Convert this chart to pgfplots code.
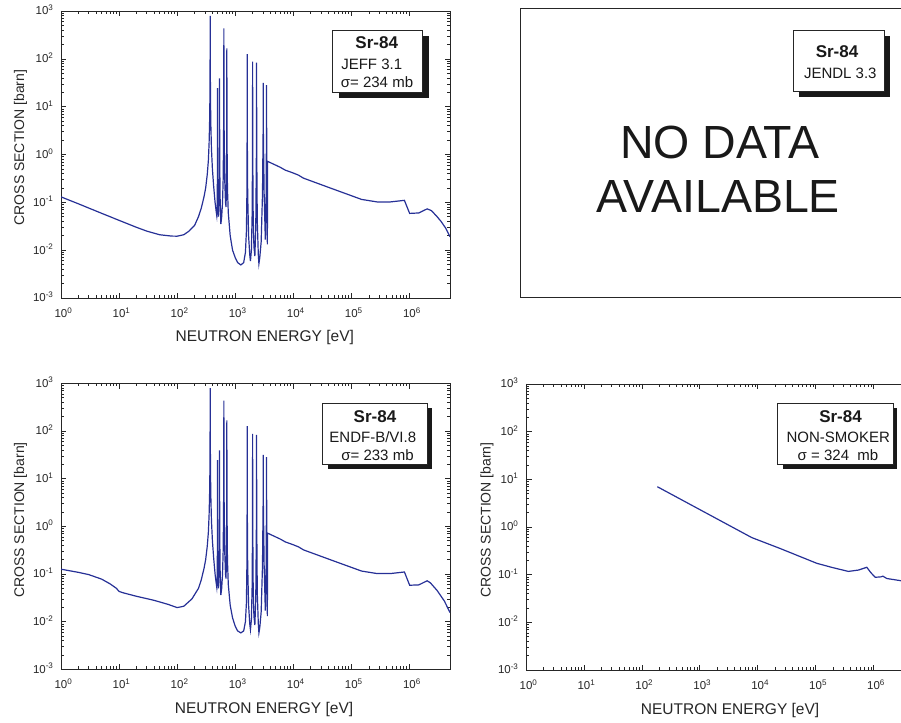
\documentclass[border=0pt]{standalone}
\usepackage{pgfplots}
\pgfplotsset{compat=1.18}
\usepackage{fontspec}
\setmainfont{Liberation Sans}
\definecolor{curve}{RGB}{38,48,150}
\newcommand{\xe}[1]{10\rlap{\textsuperscript{#1}}}
\newcommand{\ye}[1]{10\textsuperscript{#1}}
\pgfkeys{/pgfplots/srpanel/.style={
    scale only axis,
    xmin=1, xmax=5e6, ymin=1e-3, ymax=1e3,
    xtick={1,10,100,1000,10000,100000,1000000},
    xticklabels={\xe{0},\xe{1},\xe{2},\xe{3},\xe{4},\xe{5},\xe{6}},
    ytick={0.001,0.01,0.1,1,10,100,1000},
    yticklabels={\ye{-3},\ye{-2},\ye{-1},\ye{0},\ye{1},\ye{2},\ye{3}},
    tick label style={font=\fontsize{11.5}{12}\selectfont, text=black!85},
    xticklabel style={yshift=-6pt},
    yticklabel style={xshift=-4pt, yshift=1pt},
    major tick length=5.5pt, minor tick length=3pt,
    axis line style={line width=0.8pt, black!85},
    every tick/.style={black!85, line width=0.6pt},
    xlabel={NEUTRON ENERGY [eV]},
    ylabel={CROSS SECTION [barn]},
    xlabel style={font=\fontsize{15.5}{16}\selectfont, text=black!85, anchor=base},
    ylabel style={font=\fontsize{14}{15}\selectfont, text=black!85, anchor=base},
  }}
\begin{document}
\begin{tikzpicture}[x=1pt,y=1pt]
\useasboundingbox (0,0) rectangle (901,722);
\clip (0,0) rectangle (901,722);

% ---------------- Top-left: JEFF 3.1 ----------------
\begin{loglogaxis}[srpanel, at={(61pt,424pt)}, anchor=south west, width=389pt, height=287pt,
  xlabel style={at={(axis description cs:0.524,-0.152)}},
  ylabel style={at={(axis description cs:-0.095,0.524)}}]
\addplot[curve, line width=1.2pt] coordinates {
(1,0.13) (2,0.093) (3,0.076) (5,0.059) (10,0.042) (20,0.030) (30,0.025) (50,0.021) (80,0.0197) (100,0.0196)
(130,0.021) (160,0.025) (200,0.033) (233,0.05) (260,0.075) (290,0.13) (310,0.2) (330,0.38) (345,0.75)
(355,1.7) (362,4.5) (366,12) (368.5,40) (370,150) (371,790) (372,150) (373.5,40) (376,12) (381,4)
(390,1.3) (405,0.5) (425,0.22) (450,0.1) (470,0.065) (482,0.052)
(490,0.07) (493,0.3) (494.5,3) (495,24.5) (495.5,3) (497,0.4) (505,0.09) (515,0.05)
(525,0.1) (532,0.6) (535,5) (537,39) (539,5) (542,0.6) (550,0.12) (566,0.035)
(585,0.05) (605,0.1) (620,0.3) (630,2) (635,20) (637,120) (638,434) (639,120) (641,20) (646,2) (660,0.3) (680,0.1) (695,0.08)
(705,0.2) (713,2) (716,20) (718,166) (720,20) (723,2) (735,0.2) (760,0.06) (820,0.02) (900,0.01)
(1000,0.007) (1100,0.0055) (1250,0.0049) (1400,0.0055) (1500,0.009) (1560,0.025) (1590,0.15)
(1603,2) (1608,20) (1610,126) (1612,20) (1617,2) (1640,0.15) (1700,0.02) (1780,0.008) (1830,0.0059)
(1900,0.01) (1960,0.06) (1985,1) (1992,15) (1995,87) (1998,15) (2005,1) (2040,0.05) (2100,0.012) (2180,0.0075)
(2260,0.03) (2315,1) (2328,15) (2333,83) (2338,15) (2350,1) (2400,0.04) (2500,0.008) (2560,0.0052)
(2650,0.007) (2800,0.015) (2950,0.15) (3025,3) (3040,31.6) (3055,3) (3150,0.15) (3300,0.0167)
(3400,0.1) (3455,3) (3467,28.3) (3480,3) (3540,0.05) (3580,0.0132)
(3600,0.72) (5970,0.54) (7300,0.47) (10000,0.41) (12300,0.37) (15000,0.32) (43000,0.2)
(150000,0.115) (277000,0.102) (470000,0.102) (820000,0.11) (1010000,0.0586) (1450000,0.06)
(2020000,0.073) (2400000,0.067) (3000000,0.05) (3500000,0.04) (4200000,0.029) (5000000,0.019)
};
\end{loglogaxis}

% ---------------- Top-right: JENDL 3.3 (no data) ----------------
\draw[line width=0.8pt, black!85] (906,713.7) -- (520.3,713.7) -- (520.3,424.7) -- (906,424.7);
\node[anchor=base, text=black!90, font=\fontsize{46.5}{48}\selectfont] at (720,563.7) {NO DATA};
\node[anchor=base, text=black!90, font=\fontsize{46.5}{48}\selectfont] at (718,509.7) {AVAILABLE};

% ---------------- Bottom-left: ENDF-B/VI.8 ----------------
\begin{loglogaxis}[srpanel, at={(61pt,52.7pt)}, anchor=south west, width=389pt, height=286pt,
  xlabel style={at={(axis description cs:0.522,-0.154)}},
  ylabel style={at={(axis description cs:-0.095,0.522)}}]
\addplot[curve, line width=1.2pt] coordinates {
(1,0.126) (2,0.108) (3,0.097) (5,0.078) (7,0.062) (9,0.05) (10,0.043) (12,0.040) (20,0.034) (40,0.028) (70,0.023) (100,0.0197)
(130,0.021) (180,0.03) (233,0.05) (260,0.075) (290,0.13) (310,0.2) (330,0.38) (345,0.75)
(355,1.7) (362,4.5) (366,12) (368.5,40) (370,150) (371,790) (372,150) (373.5,40) (376,12) (381,4)
(390,1.3) (405,0.5) (425,0.22) (450,0.1) (470,0.065) (482,0.052)
(490,0.07) (493,0.3) (494.5,3) (495,24.5) (495.5,3) (497,0.4) (505,0.09) (515,0.05)
(525,0.1) (532,0.6) (535,5) (537,39) (539,5) (542,0.6) (550,0.12) (566,0.036)
(585,0.05) (605,0.1) (620,0.3) (630,2) (635,20) (637,120) (638,434) (639,120) (641,20) (646,2) (660,0.3) (680,0.1) (695,0.08)
(705,0.2) (713,2) (716,20) (718,166) (720,20) (723,2) (735,0.2) (760,0.06) (820,0.022) (900,0.012)
(1000,0.008) (1100,0.0064) (1250,0.0058) (1400,0.0064) (1500,0.01) (1560,0.025) (1590,0.15)
(1603,2) (1608,20) (1610,126) (1612,20) (1617,2) (1640,0.15) (1700,0.022) (1780,0.009) (1830,0.0068)
(1900,0.011) (1960,0.06) (1985,1) (1992,15) (1995,87) (1998,15) (2005,1) (2040,0.05) (2100,0.013) (2180,0.0085)
(2260,0.03) (2315,1) (2328,15) (2333,83) (2338,15) (2350,1) (2400,0.04) (2500,0.009) (2560,0.0058)
(2650,0.0075) (2800,0.016) (2950,0.15) (3025,3) (3040,31.6) (3055,3) (3150,0.15) (3300,0.017)
(3400,0.1) (3455,3) (3467,28.3) (3480,3) (3540,0.05) (3580,0.013)
(3600,0.72) (5970,0.54) (7300,0.47) (10000,0.41) (12300,0.37) (15000,0.32) (43000,0.2)
(150000,0.115) (277000,0.102) (470000,0.102) (820000,0.11) (1010000,0.058) (1450000,0.059)
(2020000,0.072) (2300000,0.065) (3000000,0.045) (4000000,0.027) (5000000,0.0155)
};
\end{loglogaxis}

% ---------------- Bottom-right: NON-SMOKER ----------------
\begin{loglogaxis}[srpanel, at={(526pt,52pt)}, anchor=south west, width=388pt, height=286pt,
  xlabel style={at={(axis description cs:0.526,-0.154)}},
  ylabel style={at={(axis description cs:-0.091,0.524)}}]
\addplot[curve, line width=1.2pt] coordinates {
(185,7.0) (7900,0.60) (24000,0.357) (105000,0.173) (200000,0.14) (369000,0.117) (550000,0.125)
(766000,0.143) (900000,0.11) (1070000,0.088) (1340000,0.09) (1450000,0.093) (1700000,0.083)
(2900000,0.075) (5000000,0.065)
};
\end{loglogaxis}

% ---------------- Legend boxes ----------------
% top-left
\fill[black!90] (338.7,624.3) rectangle (429,686);
\draw[black!85, fill=white, line width=0.8pt] (332.7,692) rectangle (422.7,629.3);
\node[anchor=base, font=\fontsize{17}{18}\selectfont\bfseries, text=black!90] at (376.7,673) {Sr-84};
\node[anchor=base, font=\fontsize{15}{16}\selectfont, text=black!90] at (371.7,652.7) {JEFF 3.1};
\node[anchor=base, font=\fontsize{15}{16}\selectfont, text=black!90] at (377,634.3) {σ= 234 mb};
% top-right
\fill[black!90] (799,624.7) rectangle (890,686);
\draw[black!85, fill=white, line width=0.8pt] (793.3,692) rectangle (884,630.3);
\node[anchor=base, font=\fontsize{17}{18}\selectfont\bfseries, text=black!90] at (837,664.7) {Sr-84};
\node[anchor=base, font=\fontsize{15}{16}\selectfont, text=black!90] at (840.3,643) {JENDL 3.3};
% bottom-left
\fill[black!90] (327.5,253) rectangle (432.3,313.5);
\draw[black!85, fill=white, line width=0.8pt] (322.3,318.7) rectangle (427.3,257.7);
\node[anchor=base, font=\fontsize{17}{18}\selectfont\bfseries, text=black!90] at (375,299.3) {Sr-84};
\node[anchor=base, font=\fontsize{15}{16}\selectfont, text=black!90] at (372.8,279.7) {ENDF-B/VI.8};
\node[anchor=base, font=\fontsize{15}{16}\selectfont, text=black!90] at (377.5,261.3) {σ= 233 mb};
% bottom-right
\fill[black!90] (782.5,253) rectangle (897,313.5);
\draw[black!85, fill=white, line width=0.8pt] (777.7,318.7) rectangle (893.3,257.7);
\node[anchor=base, font=\fontsize{17}{18}\selectfont\bfseries, text=black!90] at (840.5,299.3) {Sr-84};
\node[anchor=base, font=\fontsize{15}{16}\selectfont, text=black!90] at (838.3,279.7) {NON-SMOKER};
\node[anchor=base, font=\fontsize{15}{16}\selectfont, text=black!90] at (838,261.3) {σ = 324\ \ mb};
\end{tikzpicture}
\end{document}
